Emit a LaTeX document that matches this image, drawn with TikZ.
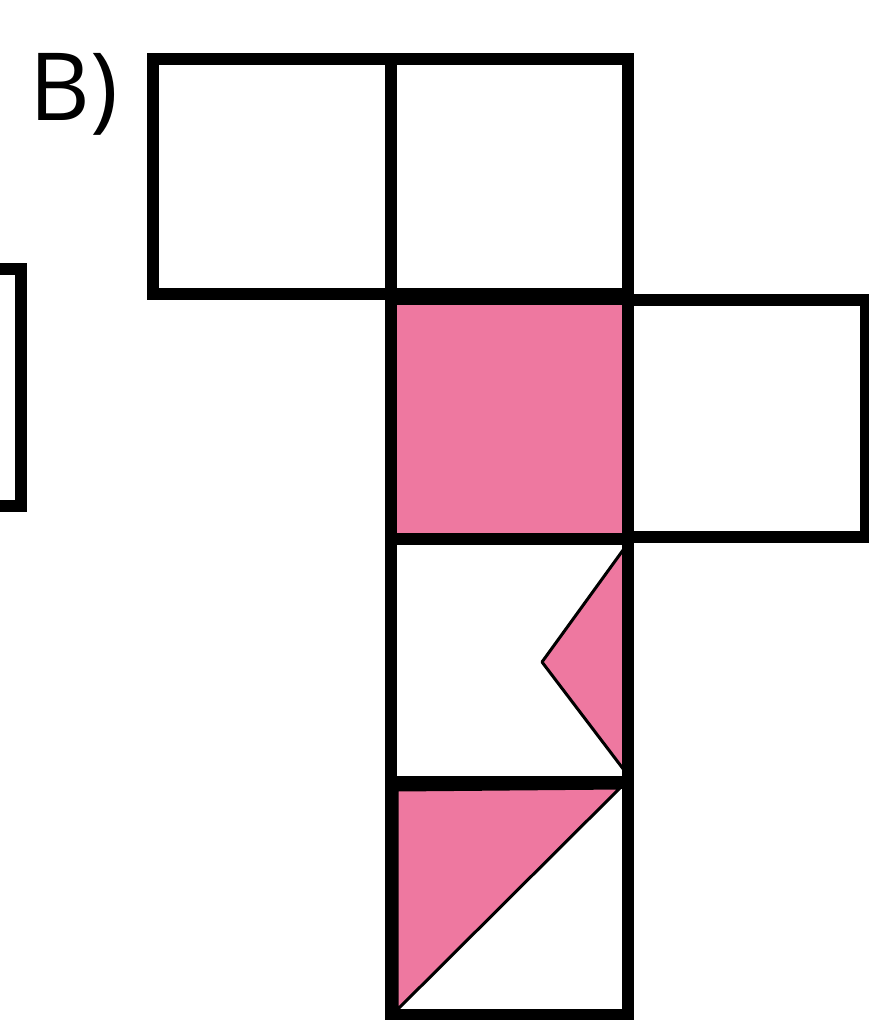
\documentclass[tikz,border=0pt]{standalone}
\usepackage{fontspec}
\setmainfont{Open Sans}
\definecolor{pinkf}{RGB}{238,120,160}
\begin{document}
\begin{tikzpicture}[x=1pt,y=-1pt,
  sq/.style={draw=black,line width=12pt,line join=miter},
  tri/.style={draw=black,line width=3pt,fill=pinkf,line join=round}]
\useasboundingbox (0,0) rectangle (869,1020);
\fill[white] (0,0) rectangle (869,1020);
% pink face
\fill[pinkf] (391,298) rectangle (628,539);
% triangles
\draw[tri] (626,546) -- (542,662) -- (624,770) -- cycle;
\draw[tri] (397,790) -- (620,788) -- (397,1010) -- cycle;
% squares of the net
\draw[sq] (153,59) rectangle (391,294);
\draw[sq] (391,59) rectangle (628,294);
\draw[sq] (391,299) rectangle (628,539);
\draw[sq] (628,300) rectangle (866,537);
\draw[sq] (391,539) rectangle (628,782);
\draw[sq] (391,783) rectangle (628,1015);
\draw[sq] (-20,269) rectangle (21,506);
\node[anchor=base west, inner sep=0pt] (lbl) at (29,120) {\fontsize{94}{104}\selectfont B)};
\end{tikzpicture}
\end{document}
